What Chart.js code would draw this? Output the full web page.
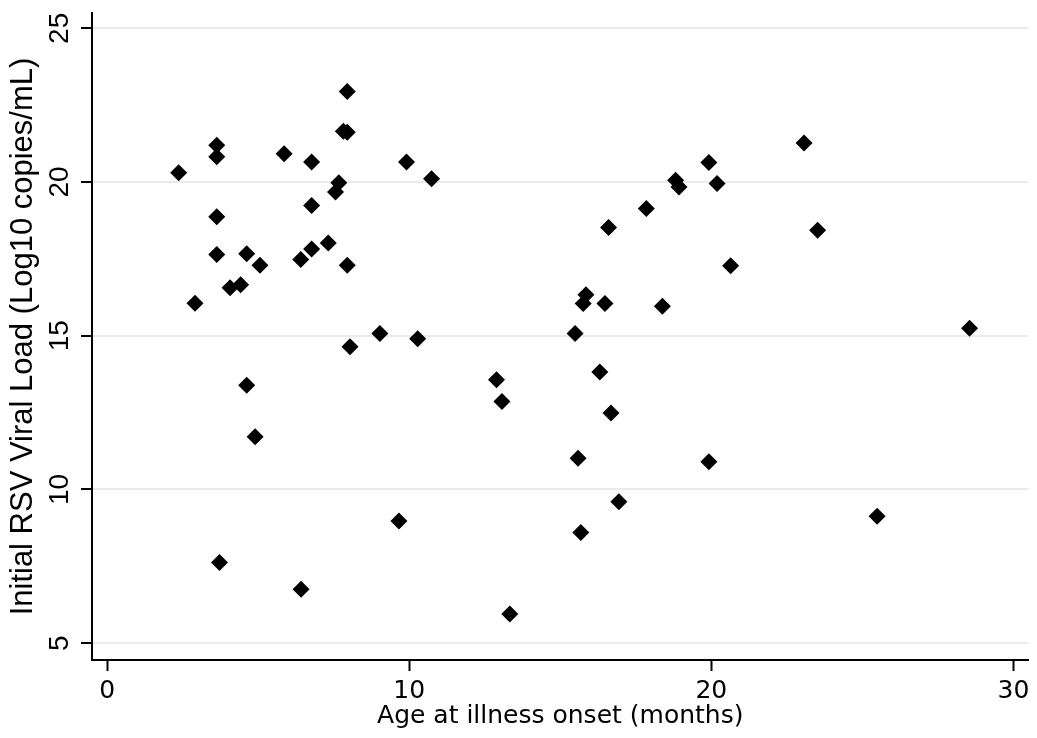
<!DOCTYPE html>
<html>
<head>
<meta charset="utf-8">
<script src="https://cdn.jsdelivr.net/npm/chart.js@4.4.1/dist/chart.umd.min.js"></script>
<style>
  html, body { margin: 0; padding: 0; background: #fff; }
  #wrap { width: 1037px; height: 738px; position: relative; }
</style>
</head>
<body>
<div id="wrap"><canvas id="scatter"></canvas></div>
<script>
// Data
const ageMonths = [
  2.37, 2.91, 3.63, 3.63, 3.63, 3.63, 3.72, 4.07, 4.42, 4.62,
  4.62, 4.90, 5.06, 5.86, 6.42, 6.41, 6.77, 6.77, 6.77, 7.32,
  7.56, 7.67, 7.95, 7.82, 7.95, 7.95, 8.04, 9.03, 9.66, 9.91,
  10.28, 10.74, 12.89, 13.07, 13.33, 15.49, 15.59, 15.68, 15.76, 15.85,
  16.31, 16.48, 16.60, 16.68, 16.94, 17.85, 18.38, 18.82, 18.93, 19.92,
  19.92, 20.19, 20.64, 23.07, 23.52, 25.49, 28.55
];
const viralLoad = [
  20.30, 16.06, 21.20, 20.82, 18.87, 17.64, 7.62, 16.56, 16.66, 13.39,
  17.67, 11.71, 17.29, 20.92, 6.75, 17.48, 20.65, 19.24, 17.82, 18.02,
  19.68, 19.98, 22.95, 21.65, 21.62, 17.29, 14.64, 15.07, 8.97, 20.65,
  14.90, 20.11, 13.57, 12.86, 5.95, 15.07, 11.01, 8.60, 16.05, 16.33,
  13.82, 16.05, 18.52, 12.49, 9.60, 19.14, 15.96, 20.06, 19.84, 20.64,
  10.90, 19.95, 17.28, 21.27, 18.43, 9.13, 15.24
];
const xTicks = [0, 10, 20, 30];
const yTicks = [5, 10, 15, 20, 25];

const points = ageMonths.map((a, i) => ({ x: a, y: viralLoad[i] }));

// y tick labels are drawn rotated, like the original
const rotatedYLabels = {
  id: 'rotatedYLabels',
  afterDraw(chart) {
    const ctx = chart.ctx;
    const yScale = chart.scales.y;
    ctx.save();
    ctx.fillStyle = '#000';
    ctx.font = "28px 'Liberation Sans', Arial, sans-serif";
    ctx.textAlign = 'center';
    ctx.textBaseline = 'alphabetic';
    yTicks.forEach(v => {
      const py = yScale.getPixelForValue(v);
      ctx.save();
      ctx.translate(68, py);
      ctx.rotate(-Math.PI / 2);
      ctx.fillText(String(v), 0, 0);
      ctx.restore();
    });
    ctx.restore();
  }
};

new Chart(document.getElementById('scatter'), {
  type: 'scatter',
  data: {
    datasets: [{
      data: points,
      pointStyle: 'rectRot',
      pointRadius: 8.5,
      pointHoverRadius: 8.5,
      pointBorderWidth: 0,
      backgroundColor: '#000',
      borderColor: '#000'
    }]
  },
  options: {
    responsive: true,
    maintainAspectRatio: false,
    animation: false,
    layout: { padding: { top: 13, right: 7, left: 0, bottom: 0 } },
    plugins: {
      legend: { display: false },
      tooltip: { enabled: false }
    },
    scales: {
      x: {
        type: 'linear',
        min: -0.5,
        max: 30.5,
        afterBuildTicks: scale => { scale.ticks = xTicks.map(v => ({ value: v })); },
        afterFit: scale => { scale.height = 78; },
        grid: {
          drawOnChartArea: false,
          tickLength: 11,
          tickWidth: 2,
          tickColor: '#000'
        },
        border: { display: true, color: '#000', width: 2 },
        ticks: {
          color: '#000',
          padding: 5,
          maxRotation: 0,
          font: { family: "'DejaVu Sans', Verdana, sans-serif", size: 25 }
        },
        title: {
          display: true,
          text: 'Age at illness onset (months)',
          color: '#000',
          padding: { top: 0, bottom: 7 },
          font: { family: "'DejaVu Sans', Verdana, sans-serif", size: 25 }
        }
      },
      y: {
        type: 'linear',
        min: 4.45,
        max: 25.5,
        afterBuildTicks: scale => { scale.ticks = yTicks.map(v => ({ value: v })); },
        afterFit: scale => { scale.width = 92; },
        grid: {
          color: '#e6eeed',
          lineWidth: 2,
          tickLength: 11,
          tickWidth: 2,
          tickColor: '#000'
        },
        border: { display: true, color: '#000', width: 2 },
        ticks: { display: false },
        title: {
          display: true,
          text: 'Initial RSV Viral Load (Log10 copies/mL)',
          color: '#000',
          padding: { top: 5, bottom: 0 },
          font: { family: "'Liberation Sans', Arial, sans-serif", size: 31 }
        }
      }
    }
  },
  plugins: [rotatedYLabels]
});
</script>
</body>
</html>
